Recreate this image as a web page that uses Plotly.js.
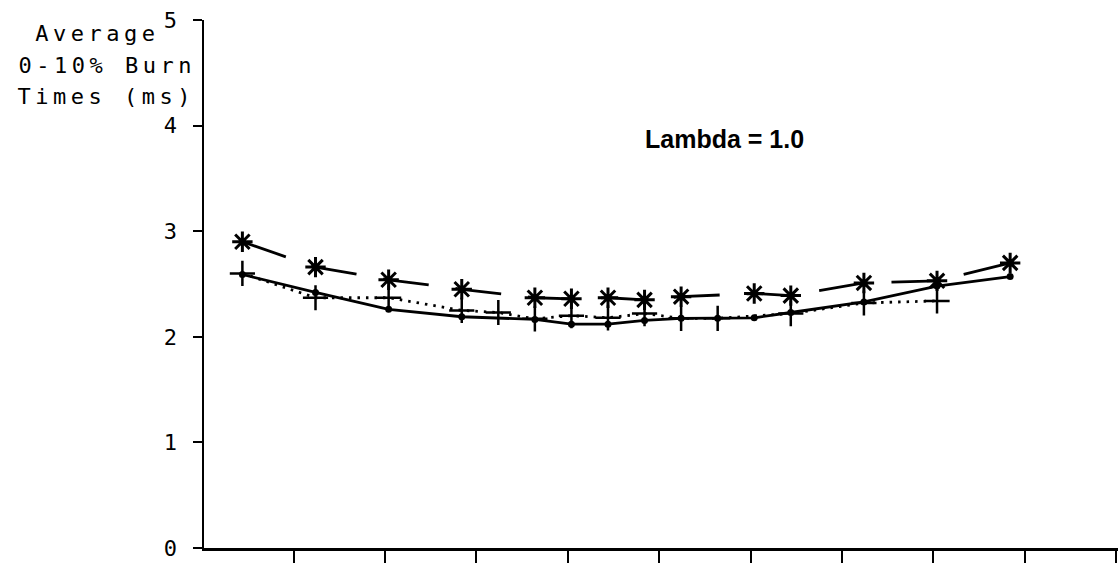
<!DOCTYPE html>
<html>
<head>
<meta charset="utf-8">
<script src="https://cdn.plot.ly/plotly-3.0.1.min.js"></script>
<style>html,body{margin:0;padding:0;background:#fff;}#chart{width:1120px;height:563px;}</style>
</head>
<body>
<div id="chart"></div>
<script>
// Series: asterisk markers (dashed line)
var xStar = [1, 3, 5, 7, 9, 10, 11, 12, 13, 15, 16, 18, 20, 22];
var yStar = [2.90, 2.66, 2.54, 2.45, 2.37, 2.36, 2.37, 2.35, 2.38, 2.41, 2.39, 2.51, 2.53, 2.70];
// Series: dot markers (solid line)
var xDot = [1, 3, 5, 7, 9, 10, 11, 12, 13, 14, 15, 16, 18, 20, 22];
var yDot = [2.59, 2.42, 2.26, 2.19, 2.165, 2.12, 2.12, 2.155, 2.175, 2.175, 2.18, 2.23, 2.33, 2.48, 2.57];
// Series: plus markers (dotted line)
var xPlus = [1, 3, 5, 7, 8, 9, 10, 11, 12, 13, 14, 16, 18, 20];
var yPlus = [2.60, 2.37, 2.37, 2.25, 2.23, 2.17, 2.20, 2.18, 2.22, 2.175, 2.175, 2.22, 2.32, 2.34];
// Axis ticks
var yTickVals = [0, 1, 2, 3, 4, 5];
var yTickText = ['0', '1', '2', '3', '4', '5'];
var yTitleLines = ['Average', '0-10% Burn', 'Times (ms)'];
var chartLabel = '<b>Lambda = 1.0</b>';

var mono = '"DejaVu Sans Mono", "Liberation Mono", monospace';

var traces = [
  {x: xDot, y: yDot, type: 'scatter', mode: 'lines+markers',
   line: {color: '#000', width: 2.8},
   marker: {symbol: 'circle', size: 7, color: '#000'}},
  {x: xPlus, y: yPlus, type: 'scatter', mode: 'lines+markers',
   line: {color: '#000', width: 2.8, dash: '2.5px,6px'},
   marker: {symbol: 'cross-thin-open', size: 18, color: '#000', line: {color: '#000', width: 2.5}}},
  {x: xStar, y: yStar, type: 'scatter', mode: 'lines+markers',
   line: {color: '#000', width: 2.8, dash: '46px,27px'},
   marker: {symbol: 'asterisk-open', size: 17, color: '#000', line: {color: '#000', width: 3}}}
];

var layout = {
  width: 1120, height: 563,
  margin: {l: 204, r: 2, t: 20, b: 15, pad: 0},
  paper_bgcolor: '#fff', plot_bgcolor: '#fff',
  showlegend: false,
  xaxis: {range: [-0.05, 24.95], showgrid: false, zeroline: false,
    showline: true, linecolor: '#000', linewidth: 2.5,
    ticks: 'outside', tick0: -0.1, dtick: 2.5, ticklen: 14, tickwidth: 2, tickcolor: '#000',
    showticklabels: false},
  yaxis: {range: [0, 5], showgrid: false, zeroline: false,
    showline: true, linecolor: '#000', linewidth: 2.5,
    ticks: 'outside', tickvals: yTickVals, ticktext: yTickText, ticklen: 9, tickwidth: 2, tickcolor: '#000',
    ticklabelstandoff: 11,
    tickfont: {family: mono, size: 22, color: '#000'}},
  annotations: [
    {text: yTitleLines[0], xref: 'paper', yref: 'paper', x: -0.116, y: 0.975, xanchor: 'center', yanchor: 'middle', showarrow: false,
     font: {family: mono, size: 22, color: '#000'}},
    {text: yTitleLines[1], xref: 'paper', yref: 'paper', x: -0.106, y: 0.913, xanchor: 'center', yanchor: 'middle', showarrow: false,
     font: {family: mono, size: 22, color: '#000'}},
    {text: yTitleLines[2], xref: 'paper', yref: 'paper', x: -0.107, y: 0.855, xanchor: 'center', yanchor: 'middle', showarrow: false,
     font: {family: mono, size: 22, color: '#000'}},
    {text: chartLabel, xref: 'paper', yref: 'paper', x: 0.569, y: 0.774, xanchor: 'center', yanchor: 'middle', showarrow: false,
     font: {family: '"Liberation Sans", Arial, sans-serif', size: 25, color: '#000'}}
  ]
};

Plotly.newPlot('chart', traces, layout, {staticPlot: true, displayModeBar: false}).then(function () {
  var anns = document.querySelectorAll('.annotation');
  anns.forEach(function (a) {
    var idx = +a.getAttribute('data-index');
    if (idx <= 2) {
      var t = a.querySelector('.annotation-text');
      if (t) t.style.letterSpacing = '4.5px';
    }
  });
});
</script>
</body>
</html>
